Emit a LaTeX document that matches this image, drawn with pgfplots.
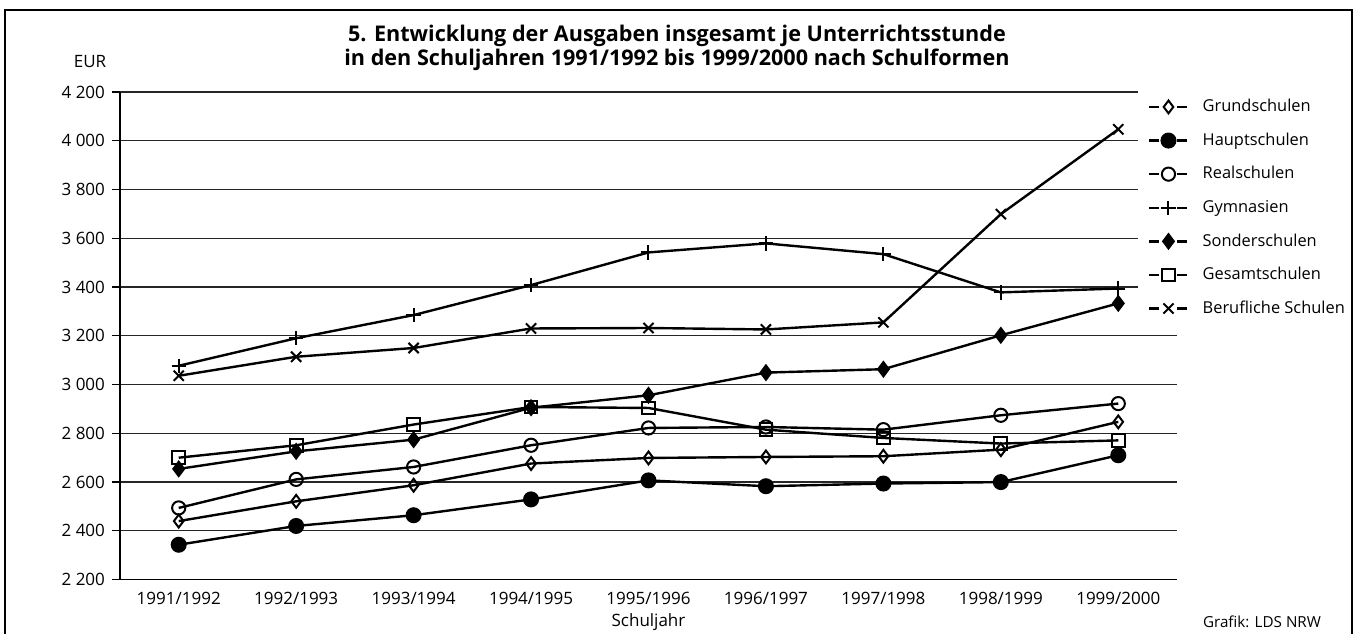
\documentclass[border=0pt]{standalone}
\usepackage{pgfplots}
\pgfplotsset{compat=1.18}
\usepackage{fontspec}
\setmainfont{Open Sans}

\begin{document}
\begin{tikzpicture}[x=1pt,y=1pt]
\useasboundingbox (-60,-26.7) rectangle (618,289.8);
\begin{axis}[
  at={(0,0)}, anchor=south west,
  scale only axis, width=528.5pt, height=243.8pt,
  xmin=-0.5, xmax=8.5, ymin=2200, ymax=4200,
  xtick={0,...,8},
  xticklabels={1991/1992,1992/1993,1993/1994,1994/1995,1995/1996,1996/1997,1997/1998,1998/1999,1999/2000},
  ytick={2200,2400,...,4200},
  axis lines=left, axis line style={-, line width=0.6pt},
  ymajorgrids, grid style={line width=0.6pt, black!85},
  tick align=outside, major tick length=4pt,
  x tick style={draw=none},
  y tick style={black, line width=0.6pt},
  /pgf/number format/1000 sep={\ },
  /pgf/number format/assume math mode=true,
  tick label style={font=\fontsize{8.5}{10}\selectfont},
  xticklabel style={yshift=1pt},
  xlabel={Schuljahr},
  xlabel style={font=\fontsize{8.5}{10}\selectfont, yshift=2.5pt},
  every axis plot/.append style={line width=1.2pt, black},
  legend style={at={(axis description cs:0.963,1.004)}, anchor=north west,
    fill=white, draw=none, font=\fontsize{8.2}{10}\selectfont,
    inner xsep=5pt, inner ysep=2pt, row sep=4.3pt,
    nodes={minimum height=12.5pt, inner sep=1pt}},
  legend cell align=left,
  /tikz/every odd column/.append style={column sep=6pt},
  legend image code/.code={%
    \draw[mark=none] (0pt,0pt) -- (5pt,0pt) (14pt,0pt) -- (19pt,0pt);
    \draw plot coordinates {(9.5pt,0pt)};},
]
\addplot[mark=diamond, mark size=3.2pt, mark options={fill=white, line width=1pt}]
  coordinates {(0,2440) (1,2521) (2,2587) (3,2676) (4,2699) (5,2703) (6,2706) (7,2733) (8,2847)};
\addlegendentry{Grundschulen}
\addplot[mark=*, mark size=3.4pt, mark options={fill=black}]
  coordinates {(0,2343) (1,2420) (2,2464) (3,2529) (4,2607) (5,2583) (6,2594) (7,2600) (8,2710)};
\addlegendentry{Hauptschulen}
\addplot[mark=o, mark size=3.3pt, mark options={fill=white, line width=1pt}]
  coordinates {(0,2494) (1,2611) (2,2662) (3,2751) (4,2822) (5,2826) (6,2815) (7,2874) (8,2922)};
\addlegendentry{Realschulen}
\addplot[mark=+, mark size=3.6pt, mark options={line width=1pt}]
  coordinates {(0,3077) (1,3190) (2,3285) (3,3408) (4,3542) (5,3579) (6,3535) (7,3378) (8,3394)};
\addlegendentry{Gymnasien}
\addplot[mark=diamond*, mark size=3.4pt, mark options={fill=black}]
  coordinates {(0,2654) (1,2726) (2,2774) (3,2905) (4,2956) (5,3049) (6,3063) (7,3202) (8,3333)};
\addlegendentry{Sonderschulen}
\addplot[mark=square, mark size=3.2pt, mark options={fill=white, line width=1pt}]
  coordinates {(0,2700) (1,2751) (2,2836) (3,2908) (4,2904) (5,2815) (6,2781) (7,2758) (8,2771)};
\addlegendentry{Gesamtschulen}
\addplot[mark=x, mark size=3.6pt, mark options={line width=1pt}]
  coordinates {(0,3036) (1,3114) (2,3150) (3,3230) (4,3232) (5,3226) (6,3255) (7,3699) (8,4047)};
\addlegendentry{Berufliche Schulen}
\end{axis}
\draw[line width=1.3pt] (-57.5,-32) rectangle (616,284.8);
\node[font=\fontsize{8.5}{10}\selectfont] at (-15,258.8) {EUR};
\node[font=\bfseries\fontsize{10.8}{9.4}\selectfont, align=center] at (278.5,266)
  {5. Entwicklung der Ausgaben insgesamt je Unterrichtsstunde\\in den Schuljahren 1991/1992 bis 1999/2000 nach Schulformen};
\node[font=\fontsize{7.6}{9}\selectfont, anchor=east] at (604,-21.3) {Grafik: LDS NRW};
\end{tikzpicture}
\end{document}
